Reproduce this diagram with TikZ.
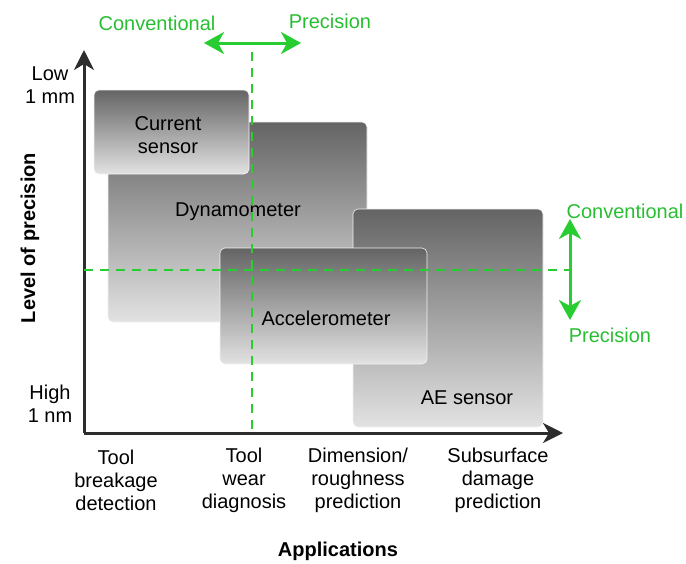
\documentclass[tikz,border=0pt]{standalone}
\usepackage{fontspec}
\setmainfont{Liberation Sans}
\usetikzlibrary{arrows.meta}
\definecolor{axisgray}{RGB}{45,45,45}
\definecolor{grn}{RGB}{40,205,50}
\definecolor{grntext}{RGB}{40,190,50}
\definecolor{boxtop}{RGB}{100,100,100}
\definecolor{boxbot}{RGB}{226,226,226}
\begin{document}
\begin{tikzpicture}[x=1pt,y=-1pt,
  every node/.style={font=\fontsize{20}{23}\selectfont, inner sep=0pt},
  sensorbox/.style={rounded corners=5pt, top color=boxtop, bottom color=boxbot, draw=white!90!gray, line width=0.6pt},
  axisline/.style={draw=axisgray, line width=3pt, -{Stealth[length=20pt,width=20pt,inset=6pt]}},
  guide/.style={draw=grn, line width=2pt, dash pattern=on 9pt off 7pt},
  grnarrow/.style={draw=grn, line width=3pt, {Stealth[length=20pt,width=22pt,inset=6pt]}-{Stealth[length=20pt,width=22pt,inset=6pt]}},
  grnlabel/.style={text=grntext},
  ticklabel/.style={align=center},
  boldlabel/.style={font=\fontsize{20}{23}\selectfont\bfseries}]
\useasboundingbox (0,0) rectangle (686,563);
% boxes
\path[sensorbox] (108,122) rectangle (367,322);
\path[sensorbox] (94,90) rectangle (249,174);
\path[sensorbox] (353,209) rectangle (543,427);
\path[sensorbox] (220,248) rectangle (427,364);
\node (dyn) at (238,212) {Dynamometer};
\node[align=center] (cur) at (168,135) {Current\\sensor};
\node (acc) at (326,318) {Accelerometer};
\node (ae) at (467,398) {AE sensor};
% axes
\coordinate (o) at (84,433);
\coordinate (ytip) at (84,50);
\coordinate (xtip) at (563,433);
\draw[axisline] (o) -- (ytip);
\draw[axisline] (o) -- (xtip);
% guides
\coordinate (vtop) at (252,52);
\coordinate (vbot) at (252,433);
\coordinate (hl) at (84,270);
\coordinate (hr) at (570,270);
\draw[guide] (vtop) -- (vbot);
\draw[guide] (hl) -- (hr);
% green arrows
\coordinate (ha) at (204,43);
\coordinate (hb) at (301,43);
\draw[grnarrow] (ha) -- (hb);
\coordinate (va) at (570,219);
\coordinate (vb) at (570,320);
\draw[grnarrow] (va) -- (vb);
\node[grnlabel] (conv1) at (157,23) {Conventional};
\node[grnlabel] (prec1) at (330,21) {Precision};
\node[grnlabel] (conv2) at (625,211) {Conventional};
\node[grnlabel] (prec2) at (610,335) {Precision};
% axis labels
\node[ticklabel] (low) at (50,85) {Low\\1 mm};
\node[ticklabel] (high) at (50,404) {High\\1 nm};
\node[ticklabel] (a1) at (116,480) {Tool\\breakage\\detection};
\node[ticklabel] (a2) at (244,480) {Tool\\wear\\diagnosis};
\node[ticklabel] (a3) at (358,480) {Dimension/\\roughness\\prediction};
\node[ticklabel] (a4) at (498,480) {Subsurface\\damage\\prediction};
\node[boldlabel, rotate=90] (ylab) at (30,238) {Level of precision};
\node[boldlabel] (xlab) at (338,551) {Applications};
\end{tikzpicture}
\end{document}
